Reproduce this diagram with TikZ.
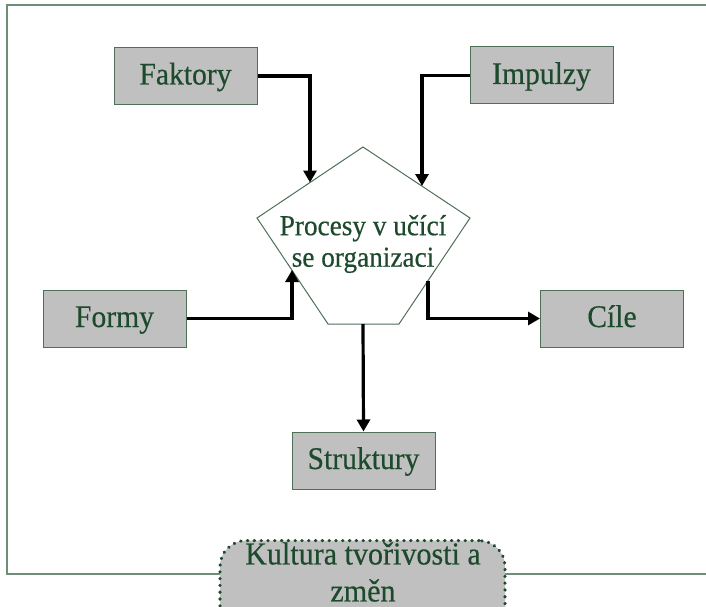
\documentclass[tikz,border=0pt]{standalone}
\usepackage{fontspec}
\setmainfont{Liberation Serif}[FakeStretch=0.94, FakeBold=0.4]
\usetikzlibrary{arrows.meta}

\definecolor{txtgreen}{HTML}{1D4A2C}
\definecolor{edgegreen}{HTML}{4F6F57}
\definecolor{framegreen}{HTML}{6E8E77}
\definecolor{boxgray}{HTML}{C0C0C0}

\tikzset{
  boxnode/.style={draw=edgegreen, line width=1pt, fill=boxgray,
    minimum width=143pt, minimum height=57pt, inner sep=0pt,
    text height=22pt, text depth=5pt,
    text=txtgreen, font=\fontsize{31.5}{36}\selectfont},
  conn/.style={line width=3.2pt, black, -{Triangle[width=13pt,length=12pt]}},
  framestyle/.style={draw=framegreen, line width=1.2pt},
}

\begin{document}
\begin{tikzpicture}[x=1pt, y=-1pt]
  \useasboundingbox (0,0) rectangle (706,607);

  % outer frame (right side runs off the page)
  \draw[framestyle] (712,5) -- (7,5) -- (7,574) -- (712,574);

  % surrounding boxes
  \node[boxnode] (fak) at (185.5,76) {Faktory};
  \node[boxnode] (imp) at (541.5,75.5) {Impulzy};
  \node[boxnode] (frm) at (114.5,318.5) {Formy};
  \node[boxnode] (cil) at (612,318.5) {Cíle};
  \node[boxnode] (str) at (363.5,460.5) {Struktury};

  % central pentagon
  \coordinate (ptop) at (363,147);
  \coordinate (pleft) at (257,218);
  \coordinate (pright) at (470,218);
  \coordinate (pbl) at (328,324);
  \coordinate (pbr) at (399,324);
  \draw[draw=edgegreen, line width=1pt, fill=white]
    (ptop) -- (pright) -- (pbr) -- (pbl) -- (pleft) -- cycle;
  \node[text=txtgreen, align=center, font=\fontsize{29}{31.5}\selectfont]
    (proc) at (363,244) {Procesy v učící\\se organizaci};

  % connector ends on the pentagon edges
  \coordinate (inFak) at (310,182.5);
  \coordinate (inImp) at (422,186);
  \coordinate (inFrm) at (292,270);
  \coordinate (outCil) at (428,281);
  \coordinate (outStr) at (363,324);

  % connectors
  \draw[conn] (fak.east) -| (inFak);
  \draw[conn] (imp.west) -| (inImp);
  \draw[conn] (frm.east) -| (inFrm);
  \draw[conn] (outCil) |- (cil.west);
  \draw[conn] (outStr) -- (str.north);

  % culture label at the bottom, overlapping the frame
  \node[draw=txtgreen, fill=boxgray, rounded corners=26pt,
        dash pattern=on 0.4pt off 6.4pt, line cap=round, line width=3.2pt,
        minimum width=285pt, minimum height=130pt, anchor=north]
    (kul) at (362.5,539) {};
  \node[text=txtgreen, align=center, anchor=north, inner sep=0pt,
        font=\fontsize{32}{37}\selectfont]
    (kultxt) at (363,542) {Kultura tvořivosti a\\změn};
\end{tikzpicture}
\end{document}
